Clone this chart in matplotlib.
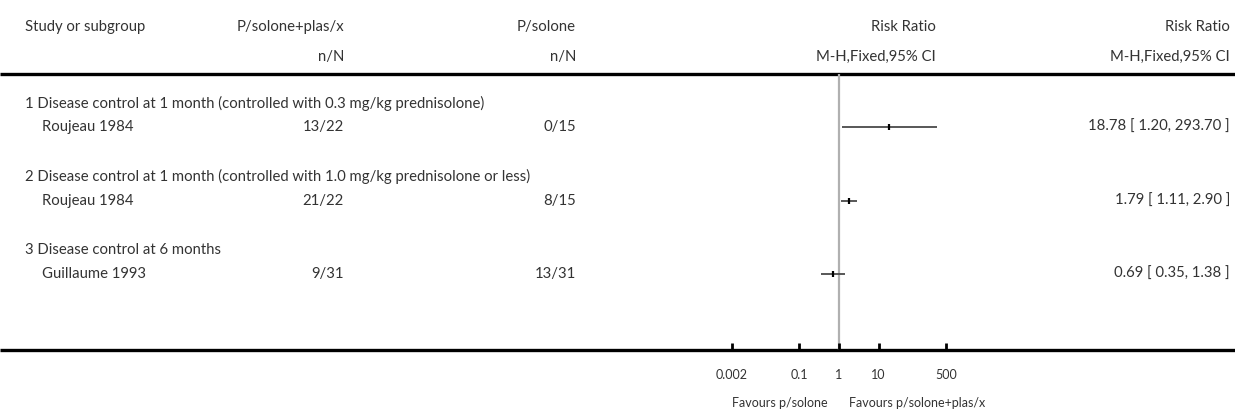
import matplotlib.pyplot as plt
import numpy as np

plt.rcParams['font.family'] = ['Lato', 'DejaVu Sans']

# data
groups = ["1 Disease control at 1 month (controlled with 0.3 mg/kg prednisolone)",
          "2 Disease control at 1 month (controlled with 1.0 mg/kg prednisolone or less)",
          "3 Disease control at 6 months"]
studies = ["Roujeau 1984", "Roujeau 1984", "Guillaume 1993"]
treat_nN = ["13/22", "21/22", "9/31"]
ctrl_nN = ["0/15", "8/15", "13/31"]
rr = [18.78, 1.79, 0.69]
lo = [1.20, 1.11, 0.35]
hi = [293.70, 2.90, 1.38]
ticks = [0.002, 0.1, 1, 10, 500]
tick_labels = ["0.002", "0.1", "1", "10", "500"]

W, H = 1235, 415
fig = plt.figure(figsize=(W / 100, H / 100), dpi=100)
bg = fig.add_axes([0, 0, 1, 1])
bg.set_xlim(0, W)
bg.set_ylim(H, 0)
bg.axis('off')

tc = '#333333'
fs = 10.7

# header
bg.text(25, 27, "Study or subgroup", fontsize=fs, color=tc, va='center')
bg.text(344, 27, "P/solone+plas/x", fontsize=fs, color=tc, va='center', ha='right')
bg.text(344, 57, "n/N", fontsize=fs, color=tc, va='center', ha='right')
bg.text(576, 27, "P/solone", fontsize=fs, color=tc, va='center', ha='right')
bg.text(576, 57, "n/N", fontsize=fs, color=tc, va='center', ha='right')
bg.text(936, 27, "Risk Ratio", fontsize=fs, color=tc, va='center', ha='right')
bg.text(936, 57, "M-H,Fixed,95% CI", fontsize=fs, color=tc, va='center', ha='right')
bg.text(1230, 27, "Risk Ratio", fontsize=fs, color=tc, va='center', ha='right')
bg.text(1230, 57, "M-H,Fixed,95% CI", fontsize=fs, color=tc, va='center', ha='right')

bg.plot([0, W], [74.5, 74.5], color='black', lw=2.4, solid_capstyle='butt')
bg.plot([0, W], [349.5, 349.5], color='black', lw=2.4, solid_capstyle='butt')

group_y = [103, 176, 250]
row_y = [127, 201, 274]
for i in range(len(studies)):
    bg.text(25, group_y[i], groups[i], fontsize=fs, color=tc, va='center')
    bg.text(42, row_y[i], studies[i], fontsize=fs, color=tc, va='center')
    bg.text(344, row_y[i], treat_nN[i], fontsize=fs, color=tc, va='center', ha='right')
    bg.text(576, row_y[i], ctrl_nN[i], fontsize=fs, color=tc, va='center', ha='right')
    bg.text(1230, row_y[i], "%.2f [ %.2f, %.2f ]" % (rr[i], lo[i], hi[i]),
            fontsize=fs, color=tc, va='center', ha='right')

bg.text(780, 403, "Favours p/solone", fontsize=9, color=tc, va='center', ha='center')
bg.text(917, 403, "Favours p/solone+plas/x", fontsize=9, color=tc, va='center', ha='center')

# forest panel
x0, x1 = 732, 946
ax = fig.add_axes([x0 / W, (H - 349.5) / H, (x1 - x0) / W, (349.5 - 74.5) / H])
ax.set_xscale('log')
ax.set_xlim(0.002, 500)
ax.set_ylim(349.5, 74.5)
ax.patch.set_alpha(0)
for s in ax.spines.values():
    s.set_visible(False)
ax.axvline(1, color='#b0b0b0', lw=1.6, zorder=1)
ax.hlines(row_y, lo, hi, color='#4a4a4a', lw=1.3, zorder=2)
ax.plot(rr, row_y, ls='none', marker='|', ms=4, mew=1.6, color='black', zorder=3)
ax.set_yticks([])
ax.set_xticks(ticks)
ax.set_xticklabels(tick_labels)
ax.minorticks_off()
ax.tick_params(axis='x', direction='in', length=5, width=2, color='black',
               pad=14, labelsize=9, labelcolor=tc)

fig.savefig('out.png', dpi=100)
